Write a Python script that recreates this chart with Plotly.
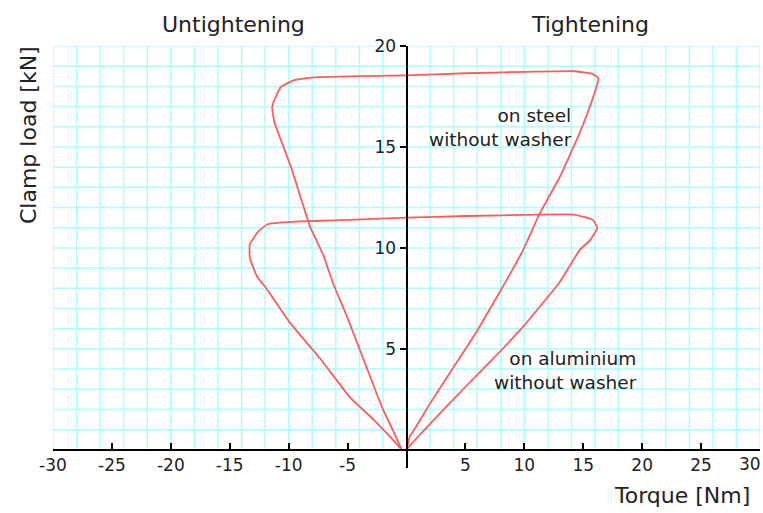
import plotly.graph_objects as go

# Clamp load vs. torque loops (tightening to the right, untightening to the left)
steel_torque = [0, 0.3, 0.6, 2, 4, 6, 8, 9.9, 11.3, 13, 14.7, 15.8, 16.3, 15.8, 14.2, 10, 5, 0,
                -5, -7.9, -9.6, -10.7, -11.3, -11.4, -11.2, -9.8, -8.2, -7.1, -6.2, -5.05, -3.4,
                -2.0, -1.1, -0.4]
steel_load = [0, 0.7, 0.95, 2.3, 4.1, 5.9, 7.9, 9.9, 11.7, 13.5, 15.7, 17.4, 18.4, 18.62, 18.75,
              18.72, 18.65, 18.55, 18.5, 18.45, 18.3, 17.95, 17.2, 16.9, 16.2, 14.0, 11.07, 9.7,
              8.2, 6.6, 4.1, 2.0, 0.9, 0]

alu_torque = [0, 0.5, 2.5, 4.8, 7.5, 9.9, 13, 14.7, 15.6, 16.2, 15.8, 14.2, 11.3, 5, 0, -2.25,
              -6.2, -9.5, -11.8, -12.6, -13.3, -13.3, -12.7, -11.9, -9.9, -7.3, -4.8, -2.8, -1.4,
              -0.4]
alu_load = [0, 0.35, 1.6, 3.0, 4.6, 6.1, 8.3, 9.9, 10.4, 11.0, 11.4, 11.65, 11.65, 11.58, 11.5,
            11.45, 11.36, 11.3, 11.17, 10.8, 10.17, 9.5, 8.6, 8.0, 6.3, 4.5, 2.6, 1.5, 0.65, 0]

x_ticks = [-30, -25, -20, -15, -10, -5, 5, 10, 15, 20, 25, 30]
x_tick_text = ["-30", "-25", "-20", "-15", "-10", "-5", "5", "10", "15", "20", "25", ""]
x_edge_label = "30"  # last label is pulled in so it stays on the page
y_ticks = [5, 10, 15, 20]

x_grid = list(range(-30, 31, 2))
y_grid = list(range(1, 21))

FONT = "DejaVu Sans"
INK = "#222222"
RED = "#ff5c5c"
GRID = "#aaffff"

fig = go.Figure()
for xs, ys in [(steel_torque, steel_load), (alu_torque, alu_load)]:
    fig.add_trace(go.Scatter(x=xs, y=ys, mode="lines",
                             line=dict(color=RED, width=1.8, shape="spline", smoothing=0.3),
                             showlegend=False, hoverinfo="skip", cliponaxis=False))

# background grid paper
for gx in x_grid:
    fig.add_shape(type="line", x0=gx, x1=gx, y0=0, y1=20, layer="below",
                  line=dict(color=GRID, width=1.5))
for gy in y_grid:
    fig.add_shape(type="line", x0=-30, x1=30, y0=gy, y1=gy, layer="below",
                  line=dict(color=GRID, width=1.5))

y_min = -0.9
fig.update_layout(
    width=763, height=513,
    margin=dict(l=53, r=3, t=46, b=45, autoexpand=False),
    paper_bgcolor="white", plot_bgcolor="white",
    font=dict(family=FONT, color=INK, size=17),
    xaxis=dict(range=[-30, 30], tickvals=x_ticks, ticktext=x_tick_text,
               showgrid=False, zeroline=False, showline=True, linecolor="black", linewidth=2,
               ticks="inside", ticklen=6, tickwidth=2, tickcolor="black",
               anchor="free", position=(0 - y_min) / (20 - y_min),
               ticklabeloverflow="allow", automargin=False,
               tickfont=dict(size=17, family=FONT, color=INK), fixedrange=True),
    yaxis=dict(range=[y_min, 20], tickvals=y_ticks,
               showgrid=False, zeroline=False, showline=True, linecolor="black", linewidth=2,
               ticks="outside", ticklen=6, tickwidth=2, tickcolor="black",
               anchor="free", position=0.5, automargin=False,
               tickfont=dict(size=17, family=FONT, color=INK), fixedrange=True),
)

fig.add_annotation(text=x_edge_label, x=x_ticks[-1], y=0, xref="x", yref="y",
                   xanchor="right", yanchor="top", xshift=3, yshift=-2, showarrow=False,
                   font=dict(family=FONT, size=17, color=INK))

# curve labels, placed in data coordinates
for text, x, y in [("on steel<br>without washer", 14.2, 15.95),
                   ("on aluminium<br>without washer", 19.7, 3.95)]:
    fig.add_annotation(text=text, x=x, y=y, xref="x", yref="y", xanchor="right",
                       yanchor="middle", align="right", showarrow=False,
                       font=dict(family=FONT, size=18.5, color=INK))

# region headings and axis titles, placed relative to the plotting area
for text, x, y, xanchor, angle in [("Untightening", 0.256, 1.052, "center", 0),
                                   ("Tightening", 0.7595, 1.052, "center", 0),
                                   ("Torque [Nm]", 0.989, -0.066, "right", 0),
                                   ("Clamp load [kN]", -0.0354, 0.789, "center", -90)]:
    fig.add_annotation(text=text, x=x, y=y, xref="paper", yref="paper", xanchor=xanchor,
                       yanchor="middle", textangle=angle, showarrow=False,
                       font=dict(family=FONT, size=22, color=INK))

fig.write_html("out.html")
